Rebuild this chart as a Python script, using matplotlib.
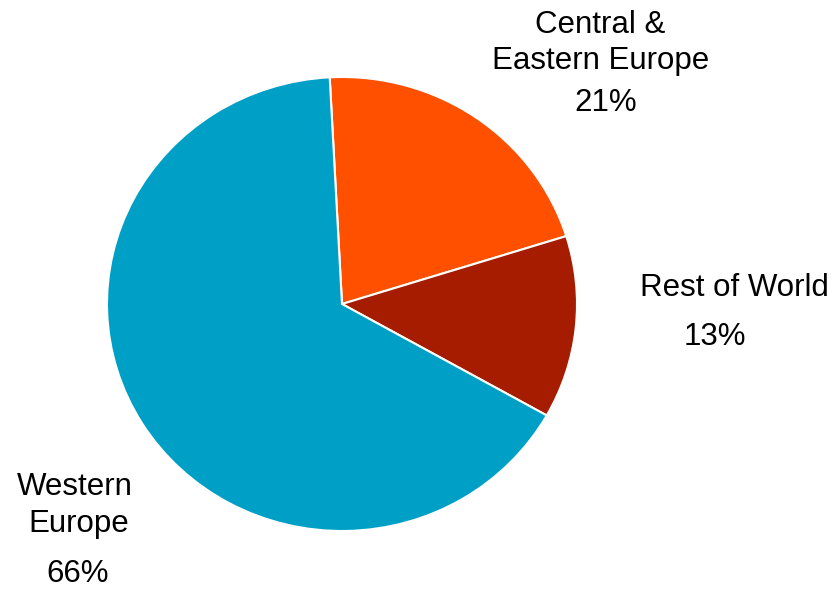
import matplotlib.pyplot as plt

plt.rcParams['font.family'] = ['Liberation Sans', 'DejaVu Sans']

# regional split of sales (%)
regions = ['Central &\nEastern Europe', 'Rest of World', 'Western\nEurope']
shares = [21, 13, 66]
colors = ['#FF5000', '#A51C00', '#00A0C6']

W, H = 836, 590
fig = plt.figure(figsize=(W / 100, H / 100), dpi=100)

# pie box in pixels: left 107, top 77, right 577, bottom 531
ax = fig.add_axes([107 / W, (H - 531) / H, 470 / W, 454 / H])
ax.pie(shares, colors=colors, startangle=93, counterclock=False, radius=1,
       wedgeprops=dict(edgecolor='white', linewidth=1.5))
ax.set_aspect('auto')
ax.set_xlim(-1, 1)
ax.set_ylim(-1, 1)
ax.axis('off')

fs = 22.5


def put(x, y, s):
    fig.text(x / W, 1 - y / H, s, ha='center', va='baseline', fontsize=fs, color='black')


# label lines: (x centre, baseline y) in pixels
put(600, 33, 'Central &')
put(601, 69, 'Eastern Europe')
put(606, 111, f'{shares[0]}%')

put(734, 296, 'Rest of World')
put(715, 345, f'{shares[1]}%')

put(75, 495, 'Western')
put(79, 532, 'Europe')
put(78, 582, f'{shares[2]}%')

fig.savefig('out.png', dpi=100)
